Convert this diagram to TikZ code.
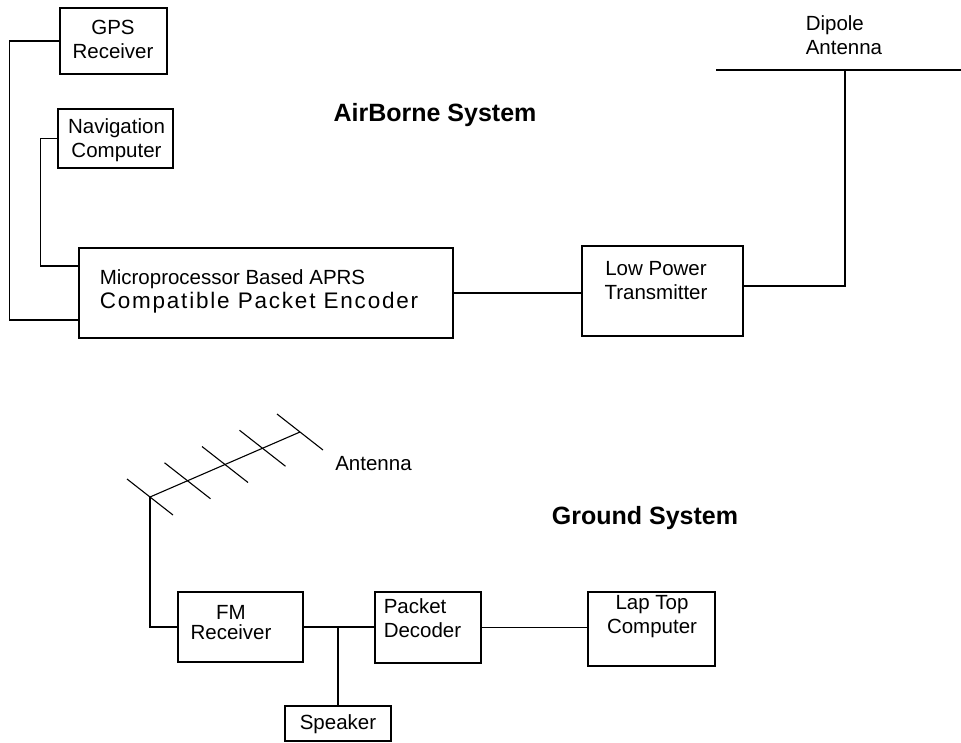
\documentclass[tikz,border=0pt]{standalone}
\usepackage{fontspec}
\setmainfont{Liberation Sans}
\newfontfamily\widefont[LetterSpace=8]{Liberation Sans}
\usetikzlibrary{calc}

\tikzset{
  blk/.style={draw, rectangle, inner sep=0pt},
  txt/.style={font=\fontsize{20.5}{24}\selectfont, align=center, inner sep=0pt},
  ttl/.style={font=\fontsize{25}{30}\selectfont\bfseries, inner sep=0pt}
}

\begin{document}
\begin{tikzpicture}[x=1pt, y=-1pt, line width=1.5pt]
  \useasboundingbox (0,0) rectangle (961,742);
  % airborne system
  \node[blk, minimum width=107pt, minimum height=66pt] (gps) at (113.5,41) {};
  \node[blk, minimum width=115pt, minimum height=59pt] (nav) at (115.5,138.5) {};
  \node[blk, minimum width=374pt, minimum height=90pt] (enc) at (266,293) {};
  \node[blk, minimum width=161pt, minimum height=90pt] (tx) at (662.5,291) {};
  \node[txt] (gpsT) at (113,39.5) {GPS\\Receiver};
  \node[txt] (navT) at (116.5,140) {Navigation\\Computer};
  \node[txt, align=left, anchor=west] (encT) at (99,291)
    {Microprocessor Based APRS\\{\widefont\fontsize{22.5}{24}\selectfont Compatible Packet Encoder}};
  \node[txt] (txT) at (656,281) {Low Power\\Transmitter};
  \node[ttl] (air) at (435,115) {AirBorne System};
  \coordinate (dipL) at (716,70);
  \coordinate (dipR) at (961,70);
  \coordinate (dipF) at (845,70);
  \node[txt, align=left, anchor=west] (dipT) at (805,35.5) {Dipole\\Antenna};
  \draw (gps.west) -- ++(-50,0) |- ([yshift=-27pt]enc.west);
  \draw (nav.west) -- ++(-17,0) |- ([yshift=27pt]enc.west);
  \draw (enc.east) -- (enc.east -| tx.west);
  \draw (dipL) -- (dipR);
  \draw ([yshift=5pt]tx.east) -| (dipF);
  % ground system
  \coordinate (boomA) at (150,497);
  \coordinate (boomB) at (300,432);
  \draw[line width=1.1pt] (boomA) -- (boomB);
  \foreach \t in {0,0.25,0.5,0.75,1}
    \draw[line width=1.1pt] ($(boomA)!\t!(boomB)$) +(-23,-18) -- +(23,18);
  \node[txt] (antT) at (373.5,464) {Antenna};
  \node[ttl] (gnd) at (645,518) {Ground System};
  \node[blk, minimum width=125pt, minimum height=70pt] (fm) at (240.5,627) {};
  \node[blk, minimum width=106pt, minimum height=71pt] (dec) at (428,627.5) {};
  \node[blk, minimum width=127pt, minimum height=74pt] (lap) at (651.5,629) {};
  \node[blk, minimum width=106pt, minimum height=35pt] (spk) at (338,723.5) {};
  \node[txt, font=\fontsize{20.5}{20}\selectfont] (fmT) at (231,623) {FM\\Receiver};
  \node[txt, align=left, anchor=west] (decT) at (383,618) {Packet\\Decoder};
  \node[txt] (lapT) at (652,616.5) {Lap Top\\Computer};
  \node[txt] (spkT) at (338,724) {Speaker};
  \draw (boomA) |- (fm.west);
  \draw (fm.east) -- (fm.east -| dec.west);
  \coordinate (jn) at (spk.north |- fm.east);
  \draw (spk.north) -- (jn);
  \draw (dec.east) -- (dec.east -| lap.west);
\end{tikzpicture}
\end{document}
